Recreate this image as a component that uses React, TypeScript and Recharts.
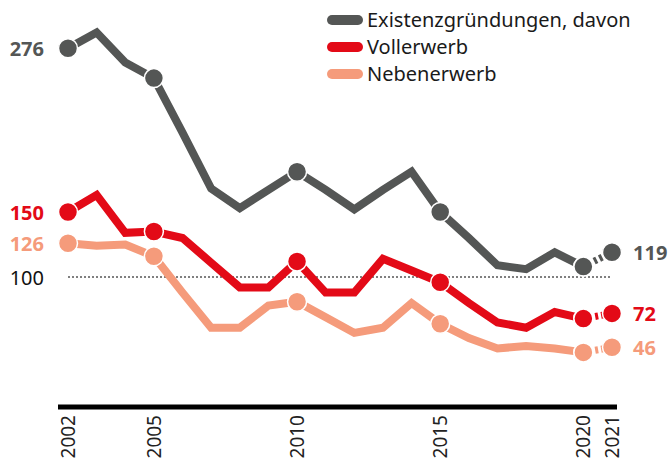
import { LineChart, Line, XAxis, YAxis, ReferenceLine, LabelList } from 'recharts'

const years = [2002, 2003, 2004, 2005, 2006, 2007, 2008, 2009, 2010, 2011, 2012, 2013, 2014, 2015, 2016, 2017, 2018, 2019, 2020, 2021]
const existenz = [276, 288, 265, 253, 211, 168, 153, 167, 181, 167, 152, 167, 181, 150, 130, 109, 106, 119, 108, 119]
const vollerwerb = [150, 163, 134, 135, 130, 111, 92, 92, 112, 88, 88, 114, 105, 96, 80, 65, 61, 73, 68, 72]
const nebenerwerb = [126, 124, 125, 116, 88, 61, 61, 78, 81, 69, 57, 61, 80, 64, 53, 45, 47, 45, 42, 46]

const tickYears = [2002, 2005, 2010, 2015, 2020, 2021]
const markerYears = [2002, 2005, 2010, 2015, 2020, 2021]

const FONT = '"Noto Sans", sans-serif'

const series = [
  { key: 'neben', name: 'Nebenerwerb', color: '#f59b7b', values: nebenerwerb },
  { key: 'voll', name: 'Vollerwerb', color: '#e30a17', values: vollerwerb },
  { key: 'exist', name: 'Existenzgründungen, davon', color: '#545655', values: existenz },
]
const legendOrder = ['exist', 'voll', 'neben']

const last = years.length - 1
const data = years.map((year, i) => {
  const row: any = { year }
  series.forEach(s => {
    row[s.key] = i < last ? s.values[i] : null
    row[s.key + 'End'] = i >= last - 1 ? s.values[i] : null
  })
  return row
})

const makeDot = (color: string) => (props: any) => {
  const { cx, cy, payload, index } = props
  if (cy == null || !markerYears.includes(payload.year)) return <g key={index} />
  return <circle key={index} cx={cx} cy={cy} r={9.5} fill={color} stroke="#fff" strokeWidth={1.5} />
}

const YearTick = ({ x, y, payload }: any) => (
  <text x={x} y={y} transform={`rotate(-90 ${x} ${y})`} textAnchor="end" dominantBaseline="central"
    fontSize={19} fill="#222" fontFamily={FONT}>
    {payload.value}
  </text>
)

const LegendBox = () => (
  <div style={{ position: 'absolute', top: 6, left: 327, fontFamily: FONT, fontSize: 20, color: '#1a1a1a' }}>
    {legendOrder.map(k => {
      const s = series.find(x => x.key === k)!
      return (
        <div key={k} style={{ display: 'flex', alignItems: 'center', height: 27, whiteSpace: 'nowrap' }}>
          <span style={{ display: 'inline-block', width: 36, height: 10, borderRadius: 5, background: s.color, marginRight: 4 }} />
          {s.name}
        </div>
      )
    })}
  </div>
)

export default function App() {
  return (
    <div style={{ position: 'absolute', top: 0, left: 0, width: 671, height: 468, fontFamily: FONT }}>
      <LineChart width={671} height={468} data={data} margin={{ top: 17, right: 54, left: 58, bottom: 6 }}>
        <XAxis dataKey="year" type="number" domain={[2002, 2021]} ticks={tickYears} interval={0}
          padding={{ left: 10, right: 5 }} axisLine={{ stroke: '#000', strokeWidth: 5 }} tickLine={false}
          tick={<YearTick />} height={55} />
        <YAxis domain={[0, 300]} hide />
        <ReferenceLine segment={[{ x: 2002, y: 100 }, { x: 2021, y: 100 }]} stroke="#000" strokeDasharray="2 2"
          label={(p: any) => (
            <text x={p.viewBox.x - 24} y={p.viewBox.y} textAnchor="end" dominantBaseline="central"
              fontSize={20} fill="#111" fontFamily={FONT}>100</text>
          )} />
        {series.flatMap(s => [
          <Line key={s.key} dataKey={s.key} name={s.name} stroke={s.color} strokeWidth={8}
            strokeLinejoin="miter" dot={makeDot(s.color)} activeDot={false} isAnimationActive={false}>
            <LabelList dataKey={s.key} content={(p: any) => p.index === 0 ? (
              <text x={p.x - 24} y={p.y} textAnchor="end" dominantBaseline="central" fontSize={20}
                fontWeight="bold" fill={s.color} fontFamily={FONT}>{p.value}</text>
            ) : null} />
          </Line>,
          <Line key={s.key + 'End'} dataKey={s.key + 'End'} legendType="none" stroke={s.color} strokeWidth={7}
            strokeDasharray="3 3" dot={makeDot(s.color)} activeDot={false} isAnimationActive={false}>
            <LabelList dataKey={s.key + 'End'} content={(p: any) => p.index === last ? (
              <text x={p.x + 21} y={p.y} textAnchor="start" dominantBaseline="central" fontSize={20}
                fontWeight="bold" fill={s.color} fontFamily={FONT}>{p.value}</text>
            ) : null} />
          </Line>,
        ])}
      </LineChart>
      <LegendBox />
    </div>
  )
}
